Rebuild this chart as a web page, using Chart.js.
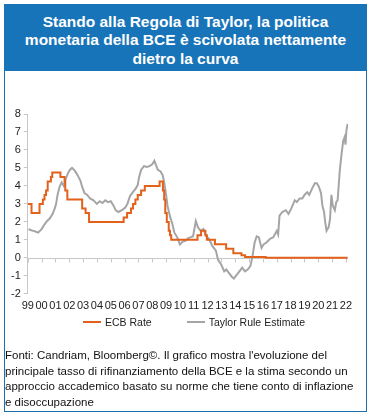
<!DOCTYPE html>
<html lang="it">
<head>
<meta charset="utf-8">
<script src="https://cdn.jsdelivr.net/npm/chart.js@4/dist/chart.umd.min.js"></script>
<style>
    html, body { margin: 0; padding: 0; background: #fff; }
    body { width: 372px; height: 415px; position: relative; overflow: hidden; font-family: "Liberation Sans", Arial, sans-serif; }
    .frame { position: absolute; left: 4px; top: 4px; width: 361px; height: 406px; border: 1.5px solid #1b6fae; }
    .title { position: absolute; left: 4px; top: 4px; width: 363px; height: 67px; background: #1874b9; color: #fff;
             font-weight: bold; font-size: 15.5px; line-height: 18.3px; text-align: center; padding-top: 9px; box-sizing: border-box; }
    .chart-box { position: absolute; left: 6px; top: 80px; width: 358px; height: 239px; }
    .legend { position: absolute; left: 83px; top: 315px; display: flex; gap: 35px; font-size: 10.5px; color: #222; line-height: 14px; }
    .legend-item { display: flex; align-items: center; }
    .legend-line { display: inline-block; width: 18px; height: 2px; margin-right: 4px; }
    .note { position: absolute; left: 5px; top: 348px; font-size: 11.5px; line-height: 15.5px; color: #111; white-space: nowrap; }
</style>
</head>
<body>
<div class="frame"></div>
<div class="title">Stando alla Regola di Taylor, la politica<br>monetaria della BCE è scivolata nettamente<br>dietro la curva</div>
<div class="chart-box"><canvas id="taylorChart"></canvas></div>
<div class="legend" id="legend"></div>
<div class="note">Fonti: Candriam, Bloomberg©. Il grafico mostra l'evoluzione del<br>principale tasso di rifinanziamento della BCE e la stima secondo un<br>approccio accademico basato su norme che tiene conto di inflazione<br>e disoccupazione</div>

<script>
// anni (decimali) e tassi BCE, a gradini
const ecbDates = [1999.0, 1999.27, 1999.85, 2000.09, 2000.21, 2000.32, 2000.44, 2000.67, 2000.77, 2001.36,
    2001.66, 2001.71, 2001.86, 2002.93, 2003.18, 2003.43, 2005.93, 2006.18, 2006.46, 2006.61,
    2006.78, 2006.95, 2007.19, 2007.46, 2008.53, 2008.77, 2008.86, 2008.94, 2009.05, 2009.19,
    2009.28, 2009.37, 2011.27, 2011.53, 2011.84, 2011.95, 2012.53, 2013.34, 2013.86, 2014.45,
    2014.71, 2016.2, 2022.12];
const ecbRates = [3.0, 2.5, 3.0, 3.25, 3.5, 3.75, 4.25, 4.5, 4.75, 4.5,
    4.25, 3.75, 3.25, 2.75, 2.5, 2.0, 2.25, 2.5, 2.75, 3.0,
    3.25, 3.5, 3.75, 4.0, 4.25, 3.75, 3.25, 2.5, 2.0, 1.5,
    1.25, 1.0, 1.25, 1.5, 1.25, 1.0, 0.75, 0.5, 0.25, 0.15,
    0.05, 0.0, 0.0];

// stima della regola di Taylor
const taylorDates = [1999.05, 1999.2, 1999.4, 1999.6, 1999.75, 2000.0, 2000.2, 2000.4, 2000.6, 2000.8,
    2000.95, 2001.05, 2001.15, 2001.3, 2001.45, 2001.6, 2001.75, 2001.9, 2002.05, 2002.2,
    2002.4, 2002.6, 2002.8, 2002.95, 2003.1, 2003.3, 2003.5, 2003.75, 2004.0, 2004.2,
    2004.4, 2004.6, 2004.8, 2005.0, 2005.2, 2005.35, 2005.55, 2005.8, 2006.05, 2006.2,
    2006.4, 2006.6, 2006.8, 2006.95, 2007.05, 2007.2, 2007.4, 2007.6, 2007.8, 2008.0,
    2008.15, 2008.3, 2008.4, 2008.6, 2008.75, 2008.85, 2009.0, 2009.1, 2009.3, 2009.45,
    2009.6, 2009.8, 2010.0, 2010.2, 2010.4, 2010.6, 2010.8, 2010.95, 2011.15, 2011.3,
    2011.5, 2011.7, 2011.9, 2012.1, 2012.35, 2012.6, 2012.75, 2013.0, 2013.2, 2013.35,
    2013.55, 2013.75, 2013.9, 2014.1, 2014.3, 2014.5, 2014.7, 2014.9, 2015.1, 2015.25,
    2015.4, 2015.55, 2015.7, 2015.9, 2016.05, 2016.25, 2016.5, 2016.75, 2017.0, 2017.1,
    2017.2, 2017.4, 2017.65, 2017.85, 2018.05, 2018.3, 2018.45, 2018.65, 2018.85, 2019.0,
    2019.2, 2019.35, 2019.55, 2019.75, 2019.9, 2020.05, 2020.2, 2020.3, 2020.42, 2020.5,
    2020.6, 2020.75, 2020.85, 2020.95, 2021.05, 2021.2, 2021.3, 2021.4, 2021.55, 2021.65,
    2021.8, 2021.9, 2021.97, 2022.03, 2022.12];
const taylorValues = [1.6, 1.55, 1.5, 1.45, 1.4, 1.6, 1.85, 2.05, 2.2, 2.45,
    2.75, 3.0, 3.5, 3.95, 4.2, 4.0, 4.4, 4.7, 4.9, 5.0,
    4.85, 4.6, 4.3, 3.9, 3.6, 3.5, 3.3, 3.2, 3.0, 3.15,
    3.05, 3.2, 3.1, 3.15, 2.9, 2.65, 2.55, 2.65, 2.8, 3.0,
    3.45, 3.65, 3.85, 4.05, 4.5, 4.9, 5.1, 5.05, 5.1, 5.2,
    5.4, 5.1, 4.9, 4.8, 4.6, 4.25, 3.5, 2.9, 2.25, 1.9,
    1.4, 1.15, 0.75, 0.9, 0.95, 1.1, 1.15, 1.2, 2.05, 1.7,
    1.5, 1.6, 1.2, 1.05, 0.65, 0.4, -0.1, -0.4, -0.75, -0.65,
    -0.85, -1.05, -1.15, -0.95, -0.75, -0.55, -0.75, -0.65, -0.45, 0.1,
    0.85, 1.2, 1.15, 0.55, 0.75, 0.85, 1.05, 1.15, 1.5, 1.3,
    2.35, 2.55, 2.65, 2.45, 2.75, 3.2, 3.1, 3.3, 3.3, 3.5,
    3.65, 3.5, 3.85, 4.15, 4.15, 3.95, 3.6, 2.9, 2.55, 2.0,
    1.5, 1.7, 2.15, 3.5, 2.9, 2.65, 3.1, 3.2, 4.8, 5.55,
    6.5, 6.7, 6.3, 7.05, 7.45];

// etichette asse x
const tickYears = [1999, 2000, 2001, 2002, 2003, 2004, 2005, 2006, 2007, 2008, 2009, 2010,
    2011, 2012, 2013, 2014, 2015, 2016, 2017, 2018, 2019, 2020, 2021, 2022];
const tickLabels = ['99', '00', '01', '02', '03', '04', '05', '06', '07', '08', '09', '10',
    '11', '12', '13', '14', '15', '16', '17', '18', '19', '20', '21', '22'];

document.addEventListener('DOMContentLoaded', function() {
    initChart();
    buildLegend(window.taylorChart);
});

function toPoints(xs, ys) {
    return xs.map((x, i) => ({ x: x, y: ys[i] }));
}

function setYearTicks(scale) {
    scale.ticks = tickYears.map(v => ({ value: v }));
}

// linea dello zero con le tacche degli anni
const zeroAxisPlugin = {
    id: 'zeroAxis',
    beforeDatasetsDraw(chart) {
        const { ctx, chartArea, scales } = chart;
        const y0 = Math.round(scales.y.getPixelForValue(0)) + 0.5;
        ctx.save();
        ctx.strokeStyle = '#c8c8c8';
        ctx.lineWidth = 1;
        ctx.beginPath();
        ctx.moveTo(chartArea.left, y0);
        ctx.lineTo(chartArea.right, y0);
        tickYears.forEach(year => {
            const px = Math.round(scales.x.getPixelForValue(year)) + 0.5;
            ctx.moveTo(px, y0);
            ctx.lineTo(px, y0 + 4);
        });
        ctx.stroke();
        ctx.restore();
    }
};

// legenda in HTML (spaziatura come nell'originale)
function buildLegend(chart) {
    const box = document.getElementById('legend');
    chart.data.datasets.forEach(ds => {
        const item = document.createElement('span');
        item.className = 'legend-item';
        const line = document.createElement('span');
        line.className = 'legend-line';
        line.style.background = ds.borderColor;
        item.appendChild(line);
        item.appendChild(document.createTextNode(ds.label));
        box.appendChild(item);
    });
}

function initChart() {
    const ctx = document.getElementById('taylorChart').getContext('2d');
    Chart.defaults.font.family = '"Liberation Sans", Arial, sans-serif';
    Chart.defaults.font.size = 11;
    Chart.defaults.color = '#222';

    window.taylorChart = new Chart(ctx, {
        type: 'line',
        data: {
            datasets: [
                {
                    label: 'ECB Rate',
                    data: toPoints(ecbDates, ecbRates),
                    borderColor: '#e2611b',
                    backgroundColor: '#e2611b',
                    borderWidth: 2,
                    stepped: true,
                    pointRadius: 0,
                    order: 1
                },
                {
                    label: 'Taylor Rule Estimate',
                    data: toPoints(taylorDates, taylorValues),
                    borderColor: '#a5a5a5',
                    backgroundColor: '#a5a5a5',
                    borderWidth: 2,
                    tension: 0,
                    pointRadius: 0,
                    order: 2
                }
            ]
        },
        options: {
            responsive: true,
            maintainAspectRatio: false,
            animation: false,
            layout: { padding: { left: 2, right: 16, top: 34, bottom: 0 } },
            plugins: {
                tooltip: { enabled: false },
                legend: { display: false }
            },
            scales: {
                x: {
                    type: 'linear',
                    min: 1999,
                    max: 2022.15,
                    afterBuildTicks: setYearTicks,
                    border: { display: false },
                    grid: { display: false, drawTicks: false },
                    ticks: {
                        maxRotation: 0,
                        autoSkip: false,
                        padding: 6,
                        callback: function(value) {
                            return tickLabels[tickYears.indexOf(value)];
                        }
                    }
                },
                y: {
                    min: -2,
                    max: 8,
                    ticks: { stepSize: 1, padding: 3, autoSkip: false },
                    border: { display: true, color: '#c8c8c8', width: 1 },
                    grid: { drawOnChartArea: false, drawTicks: true, tickLength: 4, color: '#c8c8c8' }
                }
            }
        },
        plugins: [zeroAxisPlugin]
    });
}
</script>
</body>
</html>
